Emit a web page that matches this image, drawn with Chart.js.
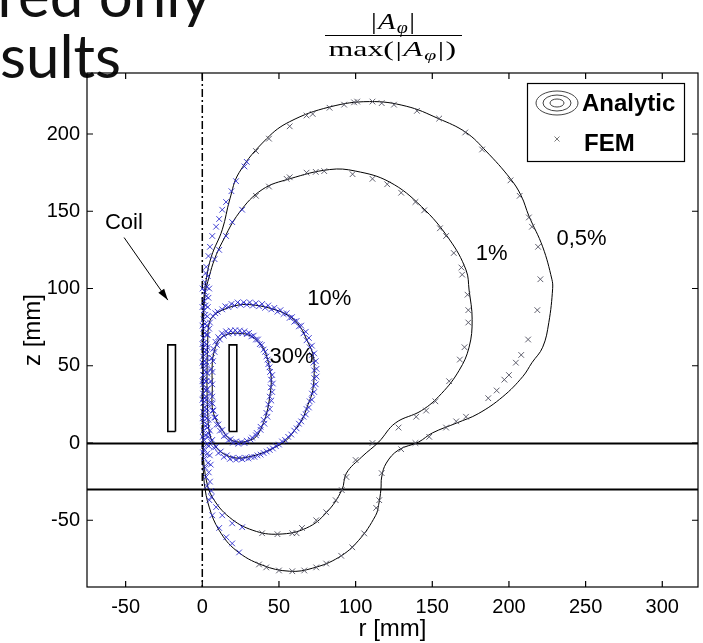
<!DOCTYPE html>
<html>
<head>
<meta charset="utf-8">
<script src="https://cdn.jsdelivr.net/npm/chart.js@4.4.1/dist/chart.umd.min.js"></script>
<style>
  html, body { margin: 0; padding: 0; background: #fff; }
  #wrap { width: 703px; height: 643px; }
</style>
</head>
<body>
<div id="wrap"><canvas id="contourChart" width="703" height="643"></canvas></div>
<script>
// axes (mm)
const rRange = [-75.2, 323.3];
const zRange = [-93.2, 239.5];
const rTicks = [-50, 0, 50, 100, 150, 200, 250, 300];
const zTicks = [-50, 0, 50, 100, 150, 200];

// analytic contour lines, [r, z] in mm
const contour05 = [[0.4,-10],[0.3,20],[0.4,60],[0.8,90],[2.6,106],[6,121],[13,138],[18,158],[24,175],[42,197],[57,208],[83,217.5],[109,221],[133,218],[154,210],[172,201],[185,189],[201,171],[208,160],[213,147],[222,127],[228,106],[228.5,100],[226,78],[222,62],[215,52],[209,43],[196,30],[180,19],[166,13],[150,6.5],[141,0.6],[128,-4.5],[120,-13],[117,-22],[116.5,-30],[115,-40],[113,-47],[102,-63],[89,-74],[72,-81],[57,-83],[39,-79],[22,-69.5],[11,-56.5],[4.5,-41.5],[1.3,-26],[0.4,-10]];
const contour1 = [[0.7,-10],[0.6,20],[0.7,60],[1.6,95],[4.6,108],[8,119],[13,130],[24,149],[39,164],[57,171],[83,177],[100,176],[122,169],[143,153],[161,132],[172,112],[174,99],[176,80],[174,62],[167.5,47],[156,32],[143,21],[126,13],[115,0.6],[104,-9],[94,-19.5],[91,-30.5],[81,-45],[68,-55],[50,-59],[33,-56.5],[17.6,-48],[6.5,-35],[2.6,-24],[0.7,-10]];
const contour10 = [[3,40],[3.5,65],[4.6,78],[8,83],[13,86],[22,89],[30.6,89.6],[45,87],[57,82],[64,75],[68,67],[72,58],[73,49],[72,34],[69,25],[65,15],[60,8],[55,2],[47,-3],[39,-6.5],[30,-9],[22,-9.7],[14,-7],[9,-2.6],[5,5],[3.5,20],[3,40]];
const contour30 = [[6.5,35],[6.5,52],[8,60],[11,67],[17,70.5],[24,71],[30,70],[35,67],[40,61],[42,56],[44,48],[45,41],[44,30],[42,19.5],[39,11],[35,4],[30,1.5],[24,0.6],[18,2.5],[13,8.4],[9,15],[6.5,23],[6.5,35]];

// FEM nodes on the same levels
const fem05 = [[2.6,114],[4,121],[5,127],[6.5,134],[9,140],[11,145],[13,151],[15.5,156],[19,163],[22,169.5],[27.5,179],[29,182],[35,189],[43.5,197],[57,205],[68,212],[72,213],[83,217],[92.5,219],[99,220.5],[101,221],[111,221],[117,220],[125,219],[140,215],[154.5,210],[171.5,201],[182.5,190],[201,170],[207,160],[213,146],[215,140],[219,127],[220.5,106],[218.5,86],[212.5,67],[208,57],[204.5,52],[200,44],[197,41],[192,34],[186.5,29],[172,17],[165.6,14],[159,10],[148,4],[139,0],[129.7,-4],[117,-19.5],[115.4,-37],[113.4,-42],[105.6,-58.5],[97.8,-67.5],[90.6,-73],[80.8,-78],[74.3,-80.5],[66.5,-82.5],[58.7,-83],[50,-82.5],[41.7,-80.5],[37,-78.6],[24,-70.8],[19.5,-65],[15.6,-61],[11,-55],[6.5,-46.8],[4.6,-37]];
const fem1 = [[8,119],[11,125],[15.5,134],[19.5,143],[26,151],[35,160],[43.5,166],[55,171],[57,172],[68,175],[74,175.5],[79.5,176],[98,174],[111,171],[120.6,167.5],[129.7,162],[139,156],[144.7,150.6],[155,139],[159,134],[164,123],[169,113.6],[169.5,109],[173,96],[173.5,86],[173.5,78],[171,62],[168,54],[161,40],[152,27],[146,21],[139.5,17],[128,10],[111,0],[100,-11],[94,-22],[91,-30.5],[87,-37],[80.8,-44.8],[74.3,-50],[65,-55],[58.7,-58.4],[61.5,-58.4],[49,-59],[39,-58.4],[26,-54.5],[19.5,-52],[13,-46.8],[9,-41.5],[5.9,-35]];
const fem10 = [[3.5,70],[5,78],[7,82],[10,85],[13,86.5],[17,88],[21,89],[25,89.5],[29,89.5],[33,89],[37,88.5],[41,87.5],[45,86.5],[49,85],[53,83.5],[57,81],[60,78.5],[63,75.5],[66,71],[68,66.5],[70,62],[71.5,57],[72.5,52],[73,47],[73,42],[72.5,37],[71.5,32],[70,27],[68,22],[66,17],[63,12.5],[60,8],[56,4],[52,1],[48,-2],[44,-4.5],[40,-6.5],[36,-8],[32,-9],[28,-9.5],[24,-9.8],[20,-9.5],[16,-8],[12,-5.5],[9,-2.5],[6.5,2],[5,8],[4,15],[3.5,25],[3.2,35],[3.2,45],[3.3,55],[3.4,62],
  [4.5,74],[8.5,84],[15,88.5],[19,90],[23,91],[27,91],[31,91],[35,90.5],[39,90],[43,89],[47,87.5],[51,86],[55,84],[58.5,81.5],[61.5,79],[64.5,76],[67.5,72],[69.5,68],[71.5,63],[73,58],[74,53],[74.5,48],[74.5,43],[74,38],[73,33],[71.5,28],[69.5,23],[67.5,18.5],[64.5,14],[61.5,9.5],[58,5.5],[54,2],[50,-1],[46,-3.5],[42,-5.5],[38,-7.5],[34,-9],[30,-10],[26,-10.5],[22,-10.8],[18,-10.3],[14,-9],[10.5,-6.5],[7.5,-3],[5.5,1],[4.2,6],[3.2,12],[2.8,20],[2.5,30],[2.4,40],[2.5,50],[2.7,60]];
const fem30 = [[6.5,30],[6.5,38],[6.6,46],[7,53],[8,59],[9.5,63.5],[11.5,67],[14,69.5],[17,70.8],[20,71.3],[23,71.3],[26,71],[29,70.5],[32,69],[35,67],[37.5,64],[40,60.5],[41.8,56],[43,51],[44.2,46],[44.8,41],[44.6,36],[44,30],[43,25],[41.8,19.5],[40,15],[38,10.5],[35.5,6.5],[32.5,3.5],[29,1.5],[25.5,0.6],[22,1],[18.5,2.5],[15.5,5],[13,8.4],[10.5,12],[8.6,16.5],[7.3,21],[6.7,25.5],
  [5.6,32],[5.6,40],[5.8,48],[6.3,55],[7.2,61],[8.6,65.5],[10.4,68.5],[12.8,71],[15.5,72.3],[18.5,72.8],[21.5,73],[24.5,72.8],[27.5,72.3],[30.5,71.3],[33.5,69.5],[36.3,67],[38.8,63.5],[41,59],[42.6,54],[43.8,49],[45.6,44],[46,38.5],[45.6,33],[45,27.5],[44,22],[42.5,17],[40.5,12.5],[38,8.5],[35,5],[31.5,2.2],[27.5,0],[23.5,-0.5],[20,0.2],[17,1.8],[14,4.5],[11.5,8],[9.4,12],[7.8,16.5],[6.6,21],[5.9,26]];
const femAxis = [[2.2,110],[1.8,104],[1.5,98],[1.2,92],[1.0,86],[0.8,80],[0.7,74],[0.6,68],[0.6,62],[0.5,56],[0.5,50],[0.5,44],[0.5,38],[0.5,32],[0.6,26],[0.6,20],[0.7,14],[0.8,8],[1.0,2],[1.2,-4],[1.5,-10],[1.9,-16],[2.4,-22],[3.0,-28],
  [3.6,108],[3.0,101],[2.6,95],[2.2,89],[2.0,83],[1.8,77],[1.6,71],[1.5,65],[1.4,59],[1.4,53],[1.4,47],[1.4,41],[1.4,35],[1.5,29],[1.6,23],[1.8,17],[2.0,11],[2.3,5],[2.7,-1],[3.1,-7],[3.6,-13],[4.2,-19],[5.0,-25],[5.9,-31],
  [4.5,100],[4,94],[3.6,88],[3.3,82],[3.1,76],[2.9,70],[2.8,64],[2.7,58],[2.7,52],[2.7,46],[2.7,40],[2.7,34],[2.8,28],[2.9,22],[3.1,16],[3.4,10],[3.8,4],[4.3,-2],[4.9,-8],[5.5,-14],
  [0.2,100],[0.1,88],[0.1,76],[0.1,64],[0.1,52],[0.1,40],[0.1,28],[0.2,16],[0.3,4],[0.5,-6]];

// coil cross-section and plate boundaries
const coilR = [17.5, 22.5];
const coilZ = [7.5, 63.5];
const plateZ = [0, -30];

const blue = 'rgba(38,38,205,0.85)';
const gray = 'rgba(80,80,95,0.9)';

const toXY = pts => pts.map(p => ({ x: p[0], y: p[1] }));

function analytic(pts) {
  return { data: toXY(pts), showLine: true, borderColor: '#000', borderWidth: 1, pointRadius: 0, tension: 0.4, fill: false };
}

function femSet(pts, allBlue) {
  return {
    data: toXY(pts), showLine: false, pointStyle: 'crossRot', pointRadius: 4, pointBorderWidth: 1,
    pointBackgroundColor: 'transparent',
    pointBorderColor: ctx => (allBlue || (ctx.raw && ctx.raw.x < 32)) ? blue : gray
  };
}

function coilRect(sign) {
  const r0 = sign * coilR[0], r1 = sign * coilR[1];
  return {
    data: toXY([[r0, coilZ[0]], [r1, coilZ[0]], [r1, coilZ[1]], [r0, coilZ[1]], [r0, coilZ[0]]]),
    showLine: true, borderColor: '#000', borderWidth: 1.6, pointRadius: 0, tension: 0,
    fill: true, backgroundColor: '#fff'
  };
}

const framePlugin = {
  id: 'frame',
  beforeDraw(chart) {
    const { ctx, width, height } = chart;
    ctx.save();
    ctx.fillStyle = '#fff';
    ctx.fillRect(0, 0, width, height);

    // slide text behind the figure
    ctx.fillStyle = '#111';
    ctx.font = '60px Lato';
    ctx.textBaseline = 'alphabetic';
    ctx.fillText('ured only', -36, 17);
    ctx.fillText('sults', 0, 78);
    ctx.restore();
  },
  beforeDatasetsDraw(chart) {
    const { ctx, chartArea: a, scales: { x, y } } = chart;
    ctx.save();
    // plate boundaries
    ctx.strokeStyle = '#000';
    ctx.lineWidth = 2;
    plateZ.forEach(z => {
      const py = Math.round(y.getPixelForValue(z)) + 0.5;
      ctx.beginPath();
      ctx.moveTo(a.left, py);
      ctx.lineTo(a.right, py);
      ctx.stroke();
    });
    // symmetry axis
    const px = x.getPixelForValue(0);
    ctx.lineWidth = 1.5;
    ctx.setLineDash([8, 3, 2, 3]);
    ctx.beginPath();
    ctx.moveTo(px, a.top);
    ctx.lineTo(px, a.bottom);
    ctx.stroke();
    ctx.restore();
  },
  afterDatasetsDraw(chart) {
    const { ctx, chartArea: a, scales: { x, y } } = chart;
    ctx.save();
    // box and inward ticks
    ctx.strokeStyle = '#000';
    ctx.lineWidth = 1.2;
    ctx.strokeRect(a.left, a.top, a.right - a.left, a.bottom - a.top);
    ctx.beginPath();
    rTicks.forEach(v => {
      const p = x.getPixelForValue(v);
      ctx.moveTo(p, a.bottom); ctx.lineTo(p, a.bottom - 6);
      ctx.moveTo(p, a.top); ctx.lineTo(p, a.top + 6);
    });
    zTicks.forEach(v => {
      const p = y.getPixelForValue(v);
      ctx.moveTo(a.left, p); ctx.lineTo(a.left + 6, p);
      ctx.moveTo(a.right, p); ctx.lineTo(a.right - 6, p);
    });
    ctx.stroke();

    // level labels
    ctx.fillStyle = '#000';
    ctx.font = '22px "Liberation Sans"';
    ctx.textBaseline = 'alphabetic';
    [['0,5%', 231, 128], ['1%', 178.3, 118.4], ['10%', 68.5, 89.3], ['30%', 43.8, 51.8]].forEach(l => {
      ctx.fillText(l[0], x.getPixelForValue(l[1]), y.getPixelForValue(l[2]));
    });

    // coil annotation
    ctx.fillText('Coil', x.getPixelForValue(-63.5), y.getPixelForValue(138.5));
    const ax0 = x.getPixelForValue(-51), ay0 = y.getPixelForValue(133);
    const ax1 = x.getPixelForValue(-22.5), ay1 = y.getPixelForValue(92.5);
    ctx.lineWidth = 1;
    ctx.beginPath();
    ctx.moveTo(ax0, ay0);
    ctx.lineTo(ax1, ay1);
    ctx.stroke();
    const ang = Math.atan2(ay1 - ay0, ax1 - ax0);
    ctx.beginPath();
    ctx.moveTo(ax1, ay1);
    ctx.lineTo(ax1 - 12 * Math.cos(ang - 0.3), ay1 - 12 * Math.sin(ang - 0.3));
    ctx.lineTo(ax1 - 12 * Math.cos(ang + 0.3), ay1 - 12 * Math.sin(ang + 0.3));
    ctx.closePath();
    ctx.fill();

    // legend
    ctx.fillStyle = '#fff';
    ctx.fillRect(527, 83, 157, 78);
    ctx.lineWidth = 1.2;
    ctx.strokeRect(527.5, 83.5, 157, 78);
    ctx.strokeStyle = '#444';
    ctx.lineWidth = 1;
    [[21, 12], [14, 8], [7, 4]].forEach(e => {
      ctx.beginPath();
      ctx.ellipse(557, 103, e[0], e[1], 0, 0, Math.PI * 2);
      ctx.stroke();
    });
    ctx.strokeStyle = '#777';
    ctx.beginPath();
    ctx.moveTo(554.5, 136.5); ctx.lineTo(559.5, 141.5);
    ctx.moveTo(559.5, 136.5); ctx.lineTo(554.5, 141.5);
    ctx.stroke();
    ctx.fillStyle = '#000';
    ctx.font = 'bold 24px "Liberation Sans"';
    ctx.fillText('Analytic', 582, 111);
    ctx.fillText('FEM', 584, 151);

    // axis titles
    ctx.font = '24px "Liberation Sans"';
    ctx.textAlign = 'center';
    ctx.fillText('r [mm]', (a.left + a.right) / 2, 636);
    ctx.save();
    ctx.translate(40, (a.top + a.bottom) / 2);
    ctx.rotate(-Math.PI / 2);
    ctx.fillText('z [mm]', 0, 0);
    ctx.restore();

    // normalised potential as the title
    drawTitle(ctx, 393);
    ctx.restore();
  }
};

function drawTitle(ctx, cx) {
  const serif = '"Liberation Serif"';
  ctx.save();
  ctx.fillStyle = '#000';
  ctx.strokeStyle = '#000';
  ctx.textAlign = 'left';
  const parts = (pre, size) => [
    [pre, size + 'px ' + serif, 0],
    ['|', size + 'px ' + serif, 0],
    ['A', 'italic ' + size + 'px ' + serif, 0],
    ['\u03c6', 'italic ' + Math.round(size * 0.68) + 'px ' + serif, 4],
    ['|', size + 'px ' + serif, 0]
  ];
  function line(items, close, baseY, sx) {
    if (close) items.push([close, items[0][1], 0]);
    let w = 0;
    items.forEach(it => { ctx.font = it[1]; w += ctx.measureText(it[0]).width + 1; });
    ctx.save();
    ctx.translate(cx - (w * sx) / 2, baseY);
    ctx.scale(sx, 1);
    let xx = 0;
    items.forEach(it => {
      ctx.font = it[1];
      ctx.fillText(it[0], xx, it[2]);
      xx += ctx.measureText(it[0]).width + 1;
    });
    ctx.restore();
  }
  line(parts('', 23), null, 29, 1.25);
  ctx.lineWidth = 1.2;
  ctx.beginPath();
  ctx.moveTo(325, 35.5);
  ctx.lineTo(462, 35.5);
  ctx.stroke();
  line(parts('max(', 22), ')', 56, 1.45);
  ctx.restore();
}

const chart = new Chart(document.getElementById('contourChart'), {
  type: 'scatter',
  data: {
    datasets: [
      femSet(femAxis, true),
      femSet(fem30, true),
      femSet(fem10, true),
      femSet(fem1, false),
      femSet(fem05, false),
      analytic(contour30),
      analytic(contour10),
      analytic(contour1),
      analytic(contour05),
      coilRect(1),
      coilRect(-1)
    ]
  },
  options: {
    responsive: false,
    animation: false,
    events: [],
    layout: { padding: { top: 73, right: 3, left: 0, bottom: 0 } },
    plugins: { legend: { display: false }, tooltip: { enabled: false } },
    scales: {
      x: {
        type: 'linear', min: rRange[0], max: rRange[1],
        afterFit: s => { s.height = 56; },
        afterBuildTicks: s => { s.ticks = rTicks.map(v => ({ value: v })); },
        grid: { display: false, drawTicks: false },
        border: { display: false },
        ticks: { padding: 8, autoSkip: false, maxRotation: 0, color: '#000', font: { family: 'Liberation Sans', size: 20 } }
      },
      y: {
        type: 'linear', min: zRange[0], max: zRange[1],
        afterFit: s => { s.width = 87; },
        afterBuildTicks: s => { s.ticks = zTicks.map(v => ({ value: v })); },
        grid: { display: false, drawTicks: false },
        border: { display: false },
        ticks: { padding: 7, autoSkip: false, color: '#000', font: { family: 'Liberation Sans', size: 20 } }
      }
    }
  },
  plugins: [framePlugin]
});
</script>
</body>
</html>
